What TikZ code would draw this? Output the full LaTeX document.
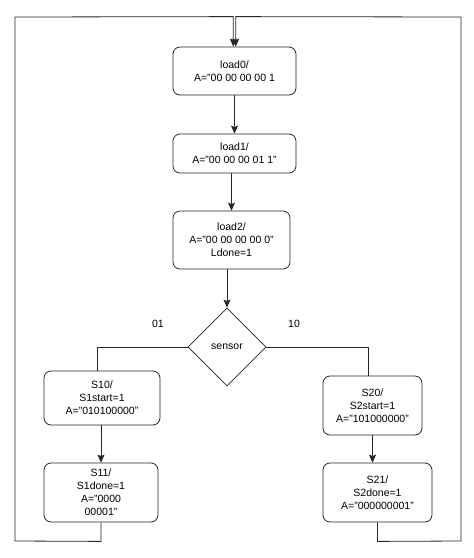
\documentclass[tikz,border=0pt]{standalone}
\usepackage{fontspec}
\setmainfont{Liberation Sans}
\usepackage{tikz}
\usetikzlibrary{arrows,arrows.meta,calc,positioning,shapes}
\tikzstyle{state}=[
  draw=black!85,
  font={\fontsize{10.5}{13}\selectfont},
  inner sep=1pt,
  rectangle,
  rounded corners=7pt,
  align=center,
  thick,
]
\tikzstyle{decision}=[
  draw=black!85,
  font={\fontsize{10.5}{13}\selectfont},
  diamond,
  aspect=1,
  inner sep=0pt,
  minimum width=78pt,
  minimum height=78pt,
  thick,
]
\tikzstyle{arrow}=[
  draw=black!85,
  thick,
]
\tikzstyle{branchlabel}=[
  font={\fontsize{10.5}{13}\selectfont},
]
\tikzset{
  >={Stealth[length=8pt,width=7pt,inset=1.5pt]},
}
\begin{document}
\begin{tikzpicture}[x=1pt,y=-1pt]
      \useasboundingbox (0,0) rectangle (474,558);
      \node (load0) [state, minimum width=123pt, minimum height=48pt] at (234.5,71) {load0/\\A="00 00 00 00 1};
      \node (load1) [state, minimum width=123pt, minimum height=39pt] at (234.5,153.5) {load1/\\A="00 00 00 01 1"};
      \node (load2) [state, minimum width=117pt, minimum height=58pt] at (231.5,240) {load2/\\A="00 00 00 00 0"\\Ldone=1};
      %%
      \node (sensor) [decision] at (227,347) {sensor};
      \node (lbl01) [branchlabel] at (158,324) {01};
      \node (lbl10) [branchlabel] at (294,324) {10};
      %%
      \node (S10) [state, minimum width=116pt, minimum height=54pt] at (102,398) {S10/\\S1start=1\\A="010100000"};
      \node (S11) [state, minimum width=114pt, minimum height=59pt] at (101,492.5) {S11/\\S1done=1\\A="0000\\00001"};
      \node (S20) [state, minimum width=99pt, minimum height=59pt] at (372.5,405.5) {S20/\\S2start=1\\A="101000000"};
      \node (S21) [state, minimum width=109pt, minimum height=59pt] at (377.5,492.5) {S21/\\S2done=1\\A="000000001"};
      %%
      \coordinate (L) at ($(load0.north)+(-1.2,-30)$);
      \coordinate (R) at ($(load0.north)+(1.2,-30)$);
      \coordinate (BL) at ($(S11.south)+(0,19)$);
      \coordinate (BR) at ($(S21.south)+(0,19)$);
      %%
      \draw [->, arrow] (load0) -- (load1);
      \draw [->, arrow] (load1.south -| load2.north) -- (load2.north);
      \draw [->, arrow] (load2.south -| sensor.north) -- (sensor.north);
      \draw [arrow] (sensor.west) -| ($(S10.north)+(-5,0)$);
      \draw [arrow] (sensor.east) -| ($(S20.north)+(-4.5,0)$);
      \draw [->, arrow] (S10.south -| S11.north) -- (S11.north);
      \draw [->, arrow] (S20.south) -- (S20.south |- S21.north);
      %%
      \draw [->, arrow] (S11.south) -- (BL) -- (15,541) -- (15,17) -- (L)
      -- ($(load0.north)+(-1.2,0)$);
      \draw [->, arrow] (S21.south) -- (BR) -- (461,541) -- (461,17) -- (R)
      -- ($(load0.north)+(1.2,0)$);
    \end{tikzpicture}
\end{document}
